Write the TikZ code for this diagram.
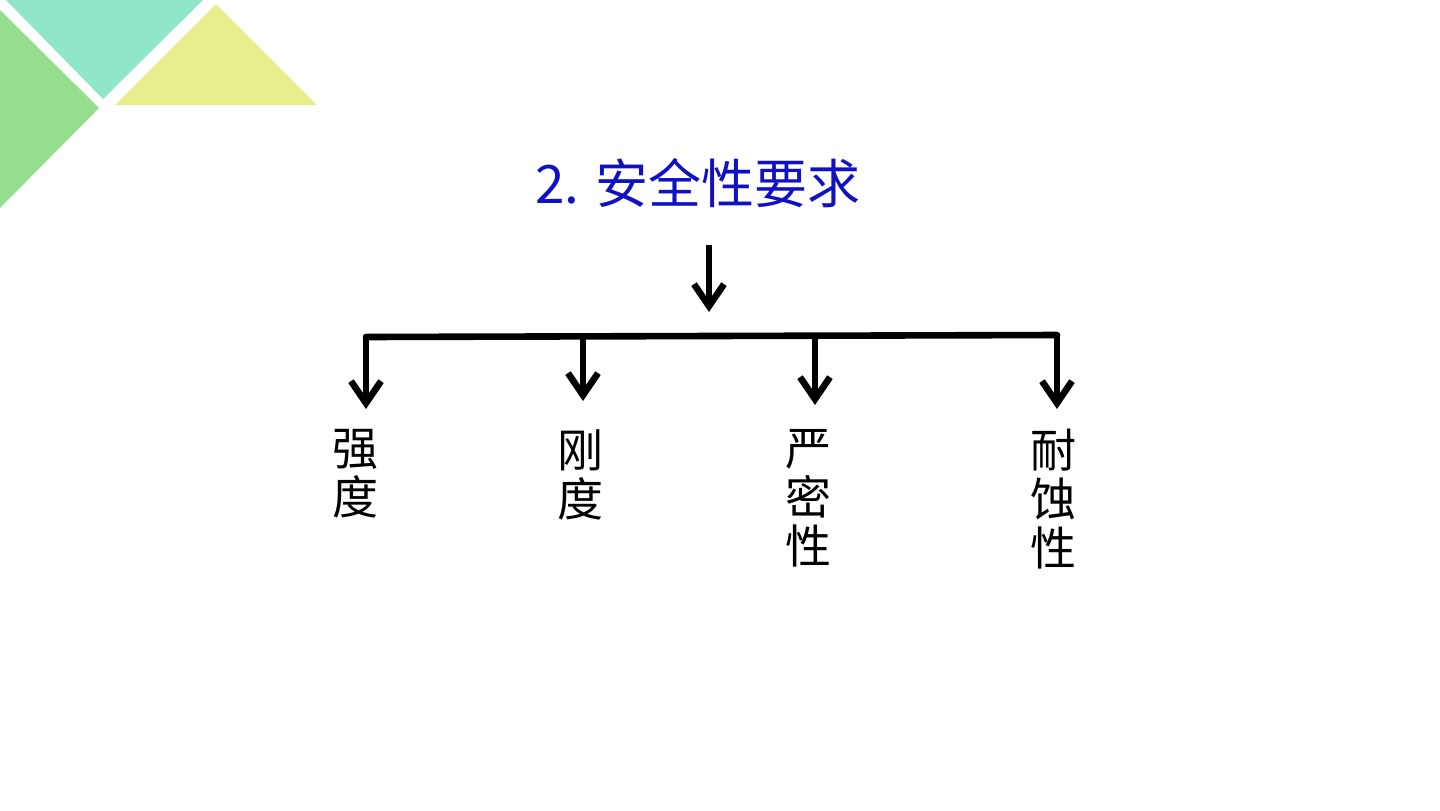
\documentclass[tikz,border=0pt]{standalone}
\usepackage{fontspec}
\newfontfamily\cjk{Noto Sans CJK SC}
\usetikzlibrary{arrows.meta}
\definecolor{teal1}{RGB}{144,230,200}
\definecolor{green1}{RGB}{148,222,142}
\definecolor{yellow1}{RGB}{232,238,142}
\definecolor{titleblue}{RGB}{16,16,196}
\begin{document}
\begin{tikzpicture}[x=0.5pt,y=-0.5pt,
  arr/.style={line width=3.3pt,-{Straight Barb[length=11pt,width=15pt,line width=3.3pt]}},
  bar/.style={line width=3.3pt,line cap=round},
  lbl/.style={font=\cjk\fontsize{23}{24.5}\selectfont,anchor=north,inner sep=0pt,align=center},
  ttl/.style={font=\cjk\fontsize{26.5}{30}\selectfont,text=titleblue,inner sep=0pt}]
\useasboundingbox[fill=white] (0,0) rectangle (1440,810);
% decorative triangles
\fill[teal1] (6,0) -- (203,0) -- (103,99) -- cycle;
\fill[green1] (0,10) -- (99,108) -- (0,208) -- cycle;
\fill[yellow1] (115,105) -- (317,105) -- (216,4) -- cycle;
% title
\node[ttl] (title) at (698,183) {2. 安全性要求};
% bar coordinates
\coordinate (mb) at (709,336);
\coordinate (b1) at (366,337);
\coordinate (b2) at (583,336);
\coordinate (b3) at (815,336);
\coordinate (b4) at (1057,335);
\draw[bar] (b1) -- (b4);
\draw[arr,shorten <=18.5pt,shorten >=12pt] (title.south -| mb) -- (mb);
% labels
\node[lbl] (s1) at (355,429) {强\\度};
\node[lbl] (s2) at (580,429) {刚\\度};
\node[lbl] (s3) at (808,429) {严\\密\\性};
\node[lbl] (s4) at (1053,429) {耐\\蚀\\性};
\draw[arr,shorten >=10pt] (b1) -- (b1 |- s1.north);
\draw[arr,shorten >=14pt] (b2) -- (b2 |- s2.north);
\draw[arr,shorten >=12pt] (b3) -- (b3 |- s3.north);
\draw[arr,shorten >=10pt] (b4) -- (b4 |- s4.north);
\end{tikzpicture}
\end{document}
